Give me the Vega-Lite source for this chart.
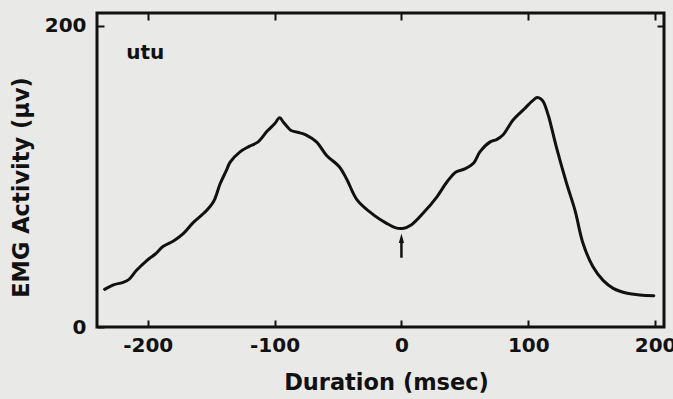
{
  "$schema": "https://vega.github.io/schema/vega-lite/v6.json",
  "autosize": "none",
  "width": 567,
  "height": 314,
  "padding": {"left": 97, "top": 13, "right": 9, "bottom": 72},
  "background": "#e9e9e7",
  "config": {
    "view": {"stroke": "#111111", "strokeWidth": 3},
    "font": "DejaVu Sans",
    "axis": {
      "domain": false,
      "grid": false,
      "tickColor": "#111111",
      "tickWidth": 2,
      "tickSize": -7,
      "labelFont": "DejaVu Sans",
      "labelFontWeight": "bold",
      "labelFontSize": 20,
      "labelColor": "#111111",
      "labelExpr": "'' + datum.value",
      "titleFont": "DejaVu Sans",
      "titleFontWeight": "bold",
      "titleFontSize": 22.5,
      "titleColor": "#111111"
    }
  },
  "datasets": {
    "emg": [
      {"t": -234, "v": 25}, {"t": -227, "v": 28}, {"t": -220, "v": 29.5}, {"t": -215, "v": 31.5},
      {"t": -209, "v": 37.5}, {"t": -201, "v": 44}, {"t": -194, "v": 48.5}, {"t": -188, "v": 53.5},
      {"t": -180, "v": 57}, {"t": -172, "v": 62}, {"t": -164, "v": 69.5}, {"t": -154, "v": 77},
      {"t": -148, "v": 83.5}, {"t": -143, "v": 95}, {"t": -138, "v": 104}, {"t": -135, "v": 109.5},
      {"t": -127, "v": 116.5}, {"t": -120, "v": 120}, {"t": -113, "v": 123}, {"t": -106, "v": 130},
      {"t": -100, "v": 135}, {"t": -96, "v": 139}, {"t": -93, "v": 136}, {"t": -90, "v": 133},
      {"t": -87, "v": 130.5}, {"t": -80, "v": 129}, {"t": -75, "v": 127.5}, {"t": -67, "v": 123},
      {"t": -59, "v": 114}, {"t": -49, "v": 106.5}, {"t": -43, "v": 98}, {"t": -35, "v": 84.5},
      {"t": -22, "v": 74.5}, {"t": -12, "v": 69}, {"t": -5, "v": 66}, {"t": 1, "v": 65.5},
      {"t": 8, "v": 68}, {"t": 17, "v": 75.5}, {"t": 28, "v": 86.5}, {"t": 36, "v": 96.5},
      {"t": 43, "v": 103}, {"t": 50, "v": 105}, {"t": 57, "v": 109}, {"t": 62, "v": 116.5},
      {"t": 70, "v": 123}, {"t": 75, "v": 124.5}, {"t": 80, "v": 127.5}, {"t": 88, "v": 137.5},
      {"t": 97, "v": 145}, {"t": 103, "v": 150}, {"t": 107, "v": 152.5}, {"t": 110, "v": 151.5},
      {"t": 112, "v": 149.5}, {"t": 116, "v": 140}, {"t": 122, "v": 120}, {"t": 130, "v": 96},
      {"t": 137, "v": 77}, {"t": 143, "v": 56}, {"t": 151, "v": 40}, {"t": 159, "v": 31},
      {"t": 167, "v": 25.7}, {"t": 178, "v": 22.4}, {"t": 188, "v": 21.3}, {"t": 199, "v": 20.8}
    ],
    "arrow": [{"t": 0, "v0": 46, "v1": 57, "head": 59}],
    "label": [{"t": -217, "v": 182, "name": "utu"}]
  },
  "resolve": {"axis": {"x": "independent", "y": "independent"}},
  "layer": [
    {
      "data": {"name": "emg"},
      "mark": {"type": "line", "color": "#111111", "strokeWidth": 3, "interpolate": "catmull-rom", "strokeCap": "round", "strokeJoin": "round"},
      "encoding": {
        "x": {
          "field": "t", "type": "quantitative",
          "scale": {"domain": [-240, 207], "nice": false, "zero": false},
          "axis": {"orient": "bottom", "values": [-200, -100, 0, 100, 200], "title": "Duration (msec)", "labelPadding": 15, "titlePadding": 16, "titleX": 289}
        },
        "y": {
          "field": "v", "type": "quantitative",
          "scale": {"domain": [0, 208.6], "nice": false},
          "axis": {"orient": "left", "values": [0, 200], "title": "EMG Activity (μv)", "labelPadding": 18, "titlePadding": 11, "titleY": 174}
        }
      }
    },
    {
      "data": {"name": "arrow"},
      "mark": {"type": "rule", "color": "#111111", "strokeWidth": 2.5},
      "encoding": {
        "x": {"field": "t", "type": "quantitative", "axis": {"orient": "top", "values": [-200, -100, 0, 100, 200], "labels": false, "title": null}},
        "y": {"field": "v0", "type": "quantitative", "axis": {"orient": "right", "values": [200], "labels": false, "title": null}},
        "y2": {"field": "v1"}
      }
    },
    {
      "data": {"name": "arrow"},
      "mark": {"type": "point", "shape": "M0,-1L0.55,1L-0.55,1Z", "filled": true, "color": "#111111", "size": 90, "opacity": 1},
      "encoding": {
        "x": {"field": "t", "type": "quantitative", "axis": null},
        "y": {"field": "head", "type": "quantitative", "axis": null}
      }
    },
    {
      "data": {"name": "label"},
      "mark": {"type": "text", "align": "left", "baseline": "middle", "font": "DejaVu Sans", "fontWeight": "bold", "fontSize": 20, "color": "#111111"},
      "encoding": {
        "x": {"field": "t", "type": "quantitative", "axis": null},
        "y": {"field": "v", "type": "quantitative", "axis": null},
        "text": {"field": "name"}
      }
    }
  ]
}
